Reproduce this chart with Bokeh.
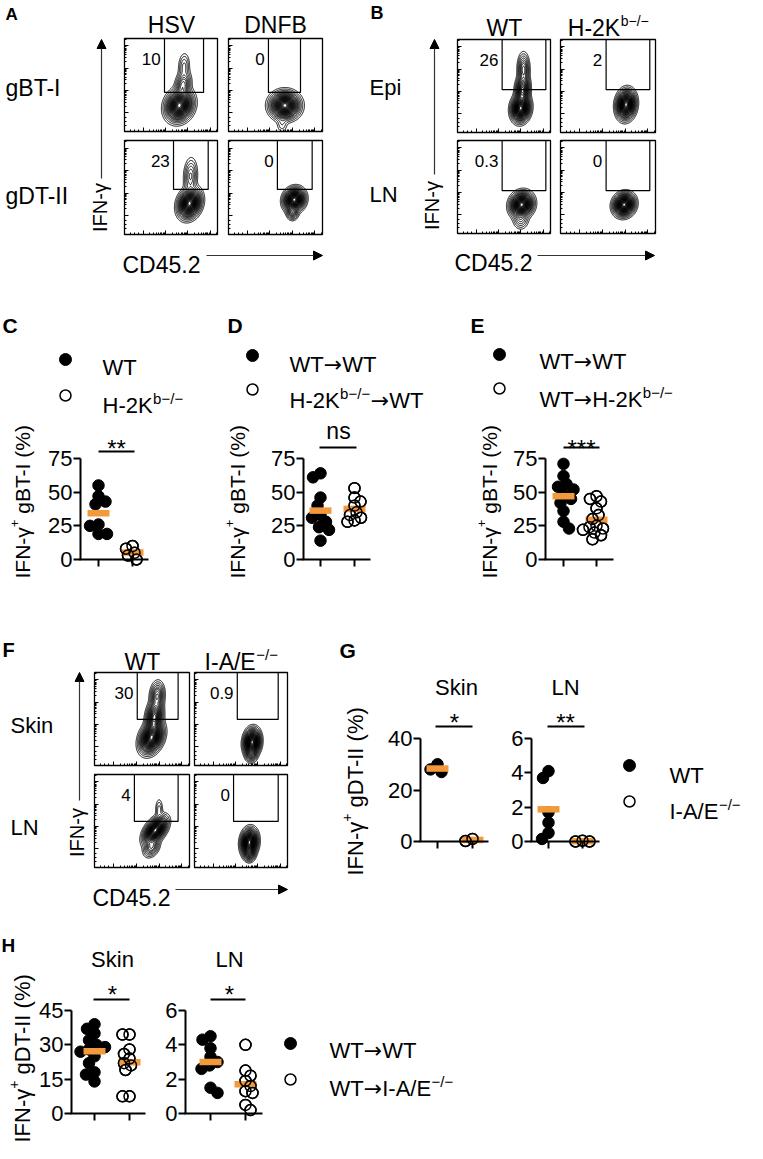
import math
import numpy as np
from bokeh.plotting import figure
from bokeh.models import (Range1d, LinearAxis, FixedTicker, Arrow, NormalHead,
                          CustomJSTickFormatter)
from bokeh.core.properties import value
from bokeh.embed import file_html
from bokeh.resources import INLINE

# ====================== DATA ======================
# C: IFN-g+ gBT-I (%)
C_WT = [55, 47, 43, 41, 26, 25, 19, 19]
C_KO = [10, 8, 5, 3, 0]
# D
D_WT = [64, 61, 46, 40, 33, 31, 28, 24, 22, 14]
D_KO = [53, 46, 43, 40, 35, 33, 31, 29, 28]
# E
E_WT = [71, 62, 56, 54, 52, 48, 45, 42, 36, 28, 23]
E_KO = [47, 45, 43, 38, 33, 30, 25, 24, 23, 22, 20, 18, 15]
# G: IFN-g+ gDT-II (%)
G_SKIN_WT = [30, 28, 27]
G_SKIN_KO = [1.0, 0.2]
G_LN_WT = [4.1, 3.7, 1.7, 1.1, 0.5, 0.15]
G_LN_KO = [0.05, 0.0, 0.0]
# H
H_SKIN_WT = [39, 37, 35, 32, 30, 29, 28, 27, 25, 22, 18, 17, 14]
H_SKIN_KO = [34.5, 34.5, 28, 26, 24, 22, 21, 19, 7.5, 7.5]
H_LN_WT = [4.5, 4.3, 3.8, 3.3, 3.0, 2.8, 2.6, 1.5, 1.2]
H_LN_KO = [4.0, 2.5, 2.2, 1.9, 1.6, 1.3, 1.2, 0.5, 0.2]

GBT_TICKS = [0, 25, 50, 75]
G_SKIN_TICKS = [0, 20, 40]
LN_TICKS = [0, 2, 4, 6]
H_SKIN_TICKS = [0, 15, 30, 45]

# Flow cytometry populations (CD45.2 %, IFN-g %, sd_x, sd_y, weight, corr), axes in % of range
A_HSV_GBT = [(59, 28, 6.5, 7.5, 1.0, 0.15), (63, 50, 4.0, 7.0, 0.22, 0.2), (64, 70, 3.0, 7.0, 0.08, 0.1)]
A_DNFB_GBT = [(60, 28, 7.0, 6.5, 1.0, 0.0), (57, 8, 3.0, 5.0, 0.04, 0.0)]
A_HSV_GDT = [(70, 33, 5.5, 7.0, 1.0, 0.2), (71, 62, 3.5, 9.0, 0.14, 0.1)]
A_DNFB_GDT = [(70, 37, 5.0, 5.5, 1.0, 0.1), (68, 24, 3.0, 4.0, 0.2, 0.0)]
B_WT_EPI = [(68, 26, 4.5, 6.5, 1.0, 0.1), (70, 46, 3.5, 7.0, 0.5, 0.1), (71, 68, 3.0, 8.0, 0.22, 0.0)]
B_KO_EPI = [(69, 30, 4.5, 7.0, 1.0, 0.1)]
B_WT_LN = [(69, 31, 5.5, 6.0, 1.0, 0.1), (68, 15, 4.0, 5.0, 0.1, 0.0)]
B_KO_LN = [(67, 31, 5.0, 5.5, 1.0, 0.1)]
F_WT_SKIN = [(60, 30, 5.5, 7.5, 1.0, 0.3), (63, 52, 4.0, 8.0, 0.55, 0.2), (66, 75, 3.5, 7.0, 0.25, 0.1)]
F_KO_SKIN = [(62, 25, 4.0, 6.5, 1.0, 0.1), (61, 12, 3.0, 4.0, 0.2, 0.0)]
F_WT_LN = [(64, 40, 5.5, 6.5, 1.0, 0.5), (60, 22, 4.0, 5.0, 0.2, 0.3), (68, 62, 2.0, 6.0, 0.06, 0.0)]
F_KO_LN = [(59, 27, 4.0, 6.5, 1.0, 0.1), (59, 15, 3.0, 4.0, 0.25, 0.0)]

# Gates (x0, x1, y0) and percentages
A_GATES = [(43, 85, 42), (42.5, 76.6, 42), (52.7, 90, 48), (52, 89, 48)]
A_PCT = ["10", "0", "23", "0"]
B_GATES = [(48, 95, 46), (48, 94, 46), (48, 95, 46), (48, 94, 46)]
B_PCT = ["26", "2", "0.3", "0"]
F_GATES = [(45, 88, 49.5), (46, 90, 49.5), (42, 88, 49.5), (42, 90, 49.5)]
F_PCT = ["30", "0.9", "4", "0"]

# ====================== STYLE / LAYOUT ======================
W, H = 747, 1143
OX, OY = 8, 8
FONT = "Liberation Sans"
ARROW_FONT = "DejaVu Sans"
ORANGE = "#F29A3B"
LEVELS = [0.012, 0.025, 0.045, 0.07, 0.1, 0.13, 0.16, 0.2, 0.24, 0.28, 0.32, 0.36, 0.4,
          0.44, 0.48, 0.52, 0.56, 0.6, 0.64, 0.68, 0.72, 0.76, 0.8, 0.84, 0.88, 0.92, 0.96]

p = figure(width=W, height=H, x_range=Range1d(OX, OX + W), y_range=Range1d(OY + H, OY),
           x_axis_type=None, y_axis_type=None, toolbar_location=None,
           output_backend="svg", min_border=0)
p.outline_line_color = None
p.background_fill_color = "white"
p.border_fill_color = "white"

XR, YR = {}, {}
BLANK = CustomJSTickFormatter(code="return ''")


def make_ranges(name, xa, ya):
    (xv0, xp0), (xv1, xp1) = xa
    sx = (xv1 - xv0) / (xp1 - xp0)
    XR[name] = Range1d(xv0 + (OX - xp0) * sx, xv0 + (OX + W - xp0) * sx)
    (yv0, yp0), (yv1, yp1) = ya
    sy = (yv1 - yv0) / (yp0 - yp1)
    YR[name] = Range1d(yv0 + (yp0 - (OY + H)) * sy, yv0 + (yp0 - OY) * sy)
    return (lambda px: xv0 + (px - xp0) * sx), (lambda py: yv0 + (yp0 - py) * sy), 1 / sx, 1 / sy


AW = {' ': 278, '(': 333, ')': 333, '%': 889, '+': 584, '-': 333, '.': 278, '/': 278,
      'A': 667, 'B': 667, 'C': 722, 'D': 722, 'E': 667, 'F': 611, 'H': 722, 'I': 278,
      'K': 667, 'L': 556, 'N': 722, 'S': 667, 'T': 611, 'V': 667, 'W': 944,
      'b': 556, 'g': 556, 'i': 222, 'k': 500, 'n': 556, 'p': 556, 's': 500,
      '\u2212': 584, '\u03b3': 500}


def tw(s, size):
    return sum(AW.get(c, 556) for c in s) / 1000.0 * size


def T(x, y, s, size, align="left", baseline="alphabetic", bold=False, angle=0.0, rn=None,
      font=FONT):
    kw = {}
    if rn:
        kw = dict(x_range_name=rn, y_range_name=rn)
    p.text(x=[x], y=[y], text=[s], text_font=value(font), text_font_size=value(f"{size}px"),
           text_align=align, text_baseline=baseline,
           text_font_style="bold" if bold else "normal", angle=angle,
           text_color="black", **kw)


def comp(x, y, parts, size, sup_size, align="left"):
    """parts: (text, kind) with kind 0 = normal, 1 = superscript, 2 = arrow."""
    widths = []
    for s, k in parts:
        if k == 1:
            widths.append(tw(s, sup_size) + 1)
        elif k == 2:
            widths.append(0.84 * size)
        else:
            widths.append(tw(s, size))
    if align == "center":
        x -= sum(widths) / 2
    for (s, k), w in zip(parts, widths):
        if k == 1:
            T(x + 0.5, y - 0.3 * size, s, sup_size)
        elif k == 2:
            T(x, y, s, size, font=ARROW_FONT)
        else:
            T(x, y, s, size)
        x += w


def rcomp(xb, ybot, parts, size):
    y = ybot
    for s, sp in parts:
        fs = round(0.62 * size) if sp else size
        lead = len(s) - len(s.lstrip(" "))
        y -= tw(" " * lead, fs)
        s2 = s.lstrip(" ")
        T(xb - (0.38 * size if sp else 0), y, s2, fs, angle=math.pi / 2)
        y -= tw(s2, fs)


def swarm(vals, ppu, d=9.0):
    v = np.asarray(vals, float)
    order = np.argsort(-v, kind="stable")
    placed, offs = [], np.zeros(len(v))
    for n, i in enumerate(order):
        y = v[i] * ppu
        k, ok = 0, None
        while ok is None:
            if k == 0:
                cands = [0.0]
            else:
                cands = [k * 0.5, -k * 0.5] if n % 2 == 0 else [-k * 0.5, k * 0.5]
            for o in cands:
                if all((o - po) ** 2 + (y - py) ** 2 >= d * d for po, py in placed):
                    ok = o
                    break
            k += 1
        placed.append((ok, y))
        offs[i] = ok
    return offs


# ---------------- flow cytometry plots ----------------
import contourpy

FLOW_MAJ = [20, 44, 68, 92]
FLOW_MIN = [d + 24 * math.log10(k) for d in FLOW_MAJ for k in range(2, 10)
            if d + 24 * math.log10(k) < 100] + [6, 11, 15]


def flow_plot(name, box, pops, gate, pct):
    x0, x1, y0, y1 = box
    make_ranges(name, ((0, x0), (100, x1)), ((0, y1), (100, y0)))
    g = np.linspace(0, 100, 241)
    X, Y = np.meshgrid(g, g)
    Z = np.zeros_like(X)
    for (cx, cy, sx, sy, w, r) in pops:
        dx = (X - cx) / sx
        dy = (Y - cy) / sy
        Z += w * np.exp(-(dx * dx - 2 * r * dx * dy + dy * dy) / (2 * (1 - r * r)))
    Z /= Z.max()
    gen = contourpy.contour_generator(g, g, Z, line_type="Separate")
    xs, ys = [], []
    for lev in LEVELS:
        for seg in gen.lines(lev):
            xs.append(seg[:, 0].tolist())
            ys.append(seg[:, 1].tolist())
    p.multi_line(xs, ys, line_color="black", line_width=1.0,
                 x_range_name=name, y_range_name=name)
    p.quad(left=[0], right=[100], bottom=[0], top=[100], fill_color=None,
           line_color="black", line_width=1.3, x_range_name=name, y_range_name=name)
    gx0, gx1, gy0 = gate
    p.quad(left=[gx0], right=[gx1], bottom=[gy0], top=[100], fill_color=None,
           line_color="black", line_width=1.2, x_range_name=name, y_range_name=name)
    T(gx0 - 4, 78, pct, 17, align="right", rn=name)
    for side in ("left", "below"):
        ax = LinearAxis(x_range_name=name, y_range_name=name, fixed_location=0,
                        bounds=(0, 100),
                        ticker=FixedTicker(ticks=FLOW_MAJ, minor_ticks=FLOW_MIN),
                        formatter=BLANK, axis_line_color=None,
                        major_tick_in=4, major_tick_out=0, minor_tick_in=2, minor_tick_out=0,
                        major_tick_line_width=1, minor_tick_line_width=1,
                        major_label_text_font_size="1px")
        p.add_layout(ax, side)


A_COLS = [(132, 225), (236, 330)]
A_ROWS = [(46, 139), (148, 242)]
B_COLS = [(465, 558), (568, 663)]
B_ROWS = [(47, 140), (148, 241)]
F_COLS = [(102, 197), (202, 295)]
F_ROWS = [(680, 773), (782, 875)]

for tag, cols, rows, pops, gates, pcts in [
        ("A", A_COLS, A_ROWS, [A_HSV_GBT, A_DNFB_GBT, A_HSV_GDT, A_DNFB_GDT], A_GATES, A_PCT),
        ("B", B_COLS, B_ROWS, [B_WT_EPI, B_KO_EPI, B_WT_LN, B_KO_LN], B_GATES, B_PCT),
        ("F", F_COLS, F_ROWS, [F_WT_SKIN, F_KO_SKIN, F_WT_LN, F_KO_LN], F_GATES, F_PCT)]:
    for i in range(4):
        r, c = divmod(i, 2)
        flow_plot(f"{tag}{i}", (cols[c][0], cols[c][1], rows[r][0], rows[r][1]),
                  pops[i], gates[i], pcts[i])


def flow_axes(vx, vy_top, vy_bot, ifn_xy, cd_xy, hx0, hx1, hy):
    p.add_layout(Arrow(end=NormalHead(size=9, fill_color="black", line_color="black", line_width=1),
                       x_start=vx, y_start=vy_bot, x_end=vx, y_end=vy_top,
                       line_color="#333333", line_width=1.2))
    p.add_layout(Arrow(end=NormalHead(size=9, fill_color="black", line_color="black", line_width=1),
                       x_start=hx0, y_start=hy, x_end=hx1, y_end=hy,
                       line_color="#333333", line_width=1.2))
    T(ifn_xy[0], ifn_xy[1], "IFN-\u03b3", 20, align="center", baseline="middle", angle=math.pi / 2)
    T(cd_xy[0], cd_xy[1], "CD45.2", 23)


flow_axes(109, 47, 186, (107, 215), (130, 272), 214, 330, 263)
flow_axes(442, 47, 182, (439, 213), (462, 270), 545, 662, 263)
flow_axes(87, 680, 808, (84, 840), (100, 905), 183, 295, 897)

# flow headers and row labels
T(179, 32, "HSV", 23, align="center")
T(283, 32, "DNFB", 23, align="center")
T(13, 95, "gBT-I", 23)
T(13, 203, "gDT-II", 23)
T(512, 35, "WT", 23, align="center")
comp(616, 35, [("H-2K", 0), ("b\u2212/\u2212", 1)], 23, 14, align="center")
T(377, 95, "Epi", 22)
T(377, 202, "LN", 22)
T(150, 669, "WT", 23, align="center")
comp(249, 669, [("I-A/E", 0), ("\u2212/\u2212", 1)], 23, 15, align="center")
T(18, 733, "Skin", 22)
T(18, 835, "LN", 22)

# panel letters
for s, x, y, fs in [("A", 13, 22, 17), ("B", 378, 20, 18), ("C", 10, 333, 21), ("D", 235, 333, 21),
                    ("E", 478, 333, 21), ("F", 10, 657, 20), ("G", 347, 658, 21), ("H", 9, 953, 19)]:
    T(x, y, s, fs, bold=True)


# ---------------- scatter plots ----------------
def scatter_plot(name, g1, g2, ya, ax_px, end_px, ticks, top, wt, ko):
    fx, fy, ppx, ppy = make_ranges(name, ((1, g1), (2, g2)), ya)
    yax = LinearAxis(x_range_name=name, y_range_name=name, fixed_location=fx(ax_px),
                     bounds=(0, top), ticker=FixedTicker(ticks=ticks, minor_ticks=[]),
                     axis_line_width=2, major_tick_line_width=2, major_tick_out=7,
                     major_tick_in=0, minor_tick_line_color=None,
                     major_label_text_font=FONT, major_label_text_font_size="22px",
                     major_label_standoff=1, major_label_text_color="black")
    p.add_layout(yax, "left")
    xax = LinearAxis(x_range_name=name, y_range_name=name, fixed_location=0,
                     bounds=(fx(ax_px - 1), fx(end_px)), ticker=FixedTicker(ticks=[1, 2], minor_ticks=[]),
                     axis_line_width=2, major_tick_line_width=2, major_tick_out=7,
                     major_tick_in=0, minor_tick_line_color=None, formatter=BLANK,
                     major_label_text_font_size="1px")
    p.add_layout(xax, "below")
    rn = dict(x_range_name=name, y_range_name=name)
    ow = swarm(wt, ppy, 8.5)
    ok = swarm(ko, ppy, 7.0)
    xw = [1 + o / ppx for o in ow]
    xk = [2 + o / ppx for o in ok]
    p.scatter(xw, wt, size=11.5, marker="circle", fill_color="black", line_color="black", **rn)
    p.scatter(xk, ko, size=11, marker="circle", fill_color="white", line_color="black",
              line_width=1.5, **rn)
    p.rect(x=[1, 2], y=[float(np.mean(wt)), float(np.mean(ko))], width=22, height=6.5,
           width_units="screen", height_units="screen", fill_color=ORANGE, line_color=None, **rn)
    p.scatter(xk, ko, size=11, marker="circle", fill_color=None, line_color="black",
              line_width=1.5, **rn)


scatter_plot("C", 106, 140, ((0, 567), (75, 466)), 88, 156, GBT_TICKS, 75, C_WT, C_KO)
scatter_plot("D", 328, 362, ((0, 567), (75, 466)), 311, 378, GBT_TICKS, 75, D_WT, D_KO)
scatter_plot("E", 571, 604, ((0, 567), (75, 466)), 553, 621, GBT_TICKS, 75, E_WT, E_KO)
scatter_plot("GS", 445, 480, ((0, 849), (40, 746)), 428, 496, G_SKIN_TICKS, 40, G_SKIN_WT, G_SKIN_KO)
scatter_plot("GL", 556, 590, ((0, 849), (6, 746)), 539, 607, LN_TICKS, 6, G_LN_WT, G_LN_KO)
scatter_plot("HS", 102, 137, ((0, 1121), (45, 1018)), 79, 153, H_SKIN_TICKS, 45, H_SKIN_WT, H_SKIN_KO)
scatter_plot("HL", 218, 253, ((0, 1121), (6, 1018)), 193, 270, LN_TICKS, 6, H_LN_WT, H_LN_KO)

# significance bars
p.segment(x0=[106, 327, 571, 443, 555, 101, 218], y0=[459, 455, 455, 734, 734, 1007, 1007],
          x1=[142, 364, 607, 480, 592, 137, 253], y1=[459, 455, 455, 734, 734, 1007, 1007],
          line_color="black", line_width=2)
for s, x, y, fs in [("**", 124, 456, 24), ("ns", 346, 438, 23), ("***", 589, 456, 24),
                    ("*", 462, 730, 24), ("**", 573, 730, 24), ("*", 120, 1002, 24),
                    ("*", 237, 1002, 24)]:
    T(x, y, s, fs, align="center")

# subplot headers
T(464, 695, "Skin", 22, align="center")
T(573, 695, "LN", 22, align="center")
T(120, 967, "Skin", 22, align="center")
T(237, 967, "LN", 22, align="center")

# y-axis titles
rcomp(30, 586, [("IFN-\u03b3", 0), ("+", 1), (" gBT-I (%)", 0)], 21)
rcomp(245, 586, [("IFN-\u03b3", 0), ("+", 1), (" gBT-I (%)", 0)], 21)
rcomp(497, 586, [("IFN-\u03b3", 0), ("+", 1), (" gBT-I (%)", 0)], 21)
rcomp(363, 883, [("IFN-\u03b3", 0), ("+", 1), (" gDT-II (%)", 0)], 22)
rcomp(30, 1150, [("IFN-\u03b3", 0), ("+", 1), (" gDT-II (%)", 0)], 22)

# legends
LEG_FILLED_X = [73, 260, 507, 637, 298]
LEG_FILLED_Y = [367, 363, 362, 773, 1051]
LEG_OPEN_Y = [403, 397, 396, 809, 1087]
p.scatter(LEG_FILLED_X, LEG_FILLED_Y, size=12, marker="circle", fill_color="black", line_color="black")
p.scatter(LEG_FILLED_X, LEG_OPEN_Y, size=11, marker="circle", fill_color="white",
          line_color="black", line_width=1.5)
SUP = "b\u2212/\u2212"
KO = "\u2212/\u2212"
AR = "\u2192"
T(110, 375, "WT", 22)
comp(110, 413, [("H-2K", 0), (SUP, 1)], 22, 15)
comp(297, 372, [("WT", 0), (AR, 2), ("WT", 0)], 22, 15)
comp(297, 408, [("H-2K", 0), (SUP, 1), (AR, 2), ("WT", 0)], 22, 15)
comp(547, 369, [("WT", 0), (AR, 2), ("WT", 0)], 22, 15)
comp(547, 407, [("WT", 0), (AR, 2), ("H-2K", 0), (SUP, 1)], 22, 15)
T(677, 783, "WT", 22)
comp(677, 819, [("I-A/E", 0), (KO, 1)], 22, 15)
comp(337, 1058, [("WT", 0), (AR, 2), ("WT", 0)], 22, 15)
comp(337, 1096, [("WT", 0), (AR, 2), ("I-A/E", 0), (KO, 1)], 22, 15)

p.extra_x_ranges = XR
p.extra_y_ranges = YR

open("out.html", "w").write(file_html(p, INLINE))
